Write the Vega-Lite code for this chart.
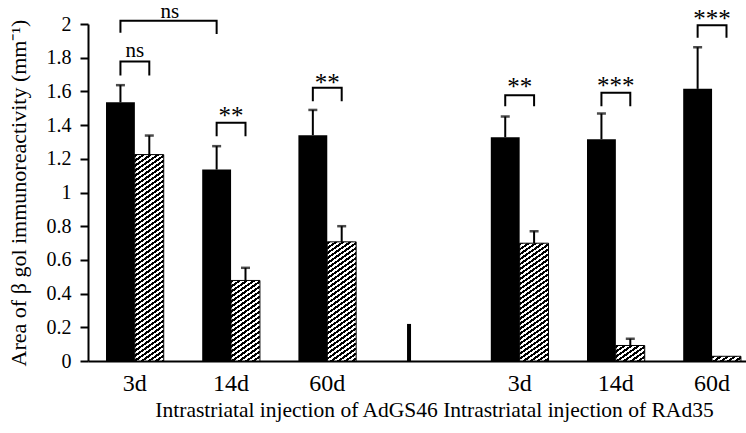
{
"$schema":"https://vega.github.io/schema/vega-lite/v6.json",
"width":658,"height":337,
"autosize":{"type":"none"},
"padding":{"left":88,"top":24,"right":0,"bottom":72},
"config":{"view":{"stroke":null},"font":"Liberation Serif",
 "axis":{"grid":false,"domainColor":"black","domainWidth":2,"tickColor":"black","labelColor":"black","titleColor":"black","labelFont":"Liberation Serif","titleFont":"Liberation Serif","titleFontWeight":"normal"}},
"datasets":{
 "bars":[
  {"slot":"A3d","series":"black","v":1.535,"top":1.637},
  {"slot":"A3d","series":"hatched","v":1.225,"top":1.338},
  {"slot":"A14d","series":"black","v":1.136,"top":1.275},
  {"slot":"A14d","series":"hatched","v":0.478,"top":0.553},
  {"slot":"A60d","series":"black","v":1.34,"top":1.49},
  {"slot":"A60d","series":"hatched","v":0.707,"top":0.8},
  {"slot":"G","series":"black","v":0.22,"top":null},
  {"slot":"R3d","series":"black","v":1.328,"top":1.451},
  {"slot":"R3d","series":"hatched","v":0.699,"top":0.77},
  {"slot":"R14d","series":"black","v":1.316,"top":1.469},
  {"slot":"R14d","series":"hatched","v":0.092,"top":0.132},
  {"slot":"R60d","series":"black","v":1.615,"top":1.862},
  {"slot":"R60d","series":"hatched","v":0.028,"top":null}
 ],
 "brackets":[
  {"id":1,"k":1,"slot":"A3d","series":"black","v":1.948},{"id":1,"k":2,"slot":"A3d","series":"black","v":2.019},{"id":1,"k":3,"slot":"A14d","series":"black","v":2.019},{"id":1,"k":4,"slot":"A14d","series":"black","v":1.94},
  {"id":2,"k":1,"slot":"A3d","series":"black","v":1.694},{"id":2,"k":2,"slot":"A3d","series":"black","v":1.777},{"id":2,"k":3,"slot":"A3d","series":"hatched","v":1.777},{"id":2,"k":4,"slot":"A3d","series":"hatched","v":1.694},
  {"id":3,"k":1,"slot":"A14d","series":"black","v":1.334},{"id":3,"k":2,"slot":"A14d","series":"black","v":1.414},{"id":3,"k":3,"slot":"A14d","series":"hatched","v":1.414},{"id":3,"k":4,"slot":"A14d","series":"hatched","v":1.334},
  {"id":4,"k":1,"slot":"A60d","series":"black","v":1.542},{"id":4,"k":2,"slot":"A60d","series":"black","v":1.621},{"id":4,"k":3,"slot":"A60d","series":"hatched","v":1.621},{"id":4,"k":4,"slot":"A60d","series":"hatched","v":1.542},
  {"id":5,"k":1,"slot":"R3d","series":"black","v":1.512},{"id":5,"k":2,"slot":"R3d","series":"black","v":1.577},{"id":5,"k":3,"slot":"R3d","series":"hatched","v":1.577},{"id":5,"k":4,"slot":"R3d","series":"hatched","v":1.512},
  {"id":6,"k":1,"slot":"R14d","series":"black","v":1.512},{"id":6,"k":2,"slot":"R14d","series":"black","v":1.592},{"id":6,"k":3,"slot":"R14d","series":"hatched","v":1.592},{"id":6,"k":4,"slot":"R14d","series":"hatched","v":1.512},
  {"id":7,"k":1,"slot":"R60d","series":"black","v":1.918},{"id":7,"k":2,"slot":"R60d","series":"black","v":1.993},{"id":7,"k":3,"slot":"R60d","series":"hatched","v":1.993},{"id":7,"k":4,"slot":"R60d","series":"hatched","v":1.918}
 ],
 "labels":[
  {"slot":"A3d","v":1.807,"t":"ns","span":"pair"},
  {"slot":"A14d","v":1.405,"t":"**","span":"pair"},
  {"slot":"A60d","v":1.603,"t":"**","span":"pair"},
  {"slot":"R3d","v":1.577,"t":"**","span":"pair"},
  {"slot":"R14d","v":1.583,"t":"***","span":"pair"},
  {"slot":"R60d","v":1.98,"t":"***","span":"pair"},
  {"slot":"A3d","v":2.038,"t":"ns","span":"wide"}
 ]
},
"encoding":{
 "x":{"field":"slot","type":"nominal",
  "scale":{"domain":["A3d","A14d","A60d","G","R3d","R14d","R60d"],"paddingInner":0.4,"paddingOuter":0.12,"align":0.78},
  "axis":{"title":"Intrastriatal injection of AdGS46 Intrastriatal injection of RAd35","labelExpr":"substring(datum.value,1)","ticks":false,"labelAngle":0,"labelFontSize":24,"labelPadding":10,"titleFontSize":21.5,"titlePadding":4,"titleX":346,"titleAnchor":"middle"}},
 "y":{"field":"v","type":"quantitative","scale":{"domain":[0,2],"nice":false},
  "axis":{"title":"Area of β gol immunoreactivity (mm⁻¹)","values":[0,0.2,0.4,0.6,0.8,1,1.2,1.4,1.6,1.8,2],"format":".1~f","labelFontSize":20,"tickSize":8,"tickWidth":2,"labelPadding":9,"titleFontSize":22,"titlePadding":16}}
},
"layer":[
 {"data":{"name":"bars"},"transform":[{"filter":"datum.series=='black' && datum.slot!='G'"}],
  "mark":{"type":"bar","fill":"black"},
  "encoding":{"xOffset":{"field":"series","type":"nominal","scale":{"domain":["black","hatched"],"paddingInner":0,"paddingOuter":0}}}},
 {"data":{"name":"bars"},"transform":[{"filter":"datum.slot=='G'"}],
  "mark":{"type":"bar","fill":"black","size":4},
  "encoding":{"xOffset":{"field":"series","type":"nominal"}}},
 {"data":{"name":"bars"},"transform":[{"filter":"datum.series=='hatched' && datum.slot=='A3d'"}],
  "mark":{"type":"bar","stroke":"black","strokeWidth":1,"fill":{"gradient":"linear","x1":0,"y1":0,"x2":0.11742,"y2":1.19975,"stops":[
{"offset":0,"color":"#000"},{"offset":0.01,"color":"#000"},{"offset":0.01,"color":"#fff"},{"offset":0.02,"color":"#fff"},
{"offset":0.02,"color":"#000"},{"offset":0.03,"color":"#000"},{"offset":0.03,"color":"#fff"},{"offset":0.04,"color":"#fff"},
{"offset":0.04,"color":"#000"},{"offset":0.05,"color":"#000"},{"offset":0.05,"color":"#fff"},{"offset":0.06,"color":"#fff"},
{"offset":0.06,"color":"#000"},{"offset":0.07,"color":"#000"},{"offset":0.07,"color":"#fff"},{"offset":0.08,"color":"#fff"},
{"offset":0.08,"color":"#000"},{"offset":0.09,"color":"#000"},{"offset":0.09,"color":"#fff"},{"offset":0.1,"color":"#fff"},
{"offset":0.1,"color":"#000"},{"offset":0.11,"color":"#000"},{"offset":0.11,"color":"#fff"},{"offset":0.12,"color":"#fff"},
{"offset":0.12,"color":"#000"},{"offset":0.13,"color":"#000"},{"offset":0.13,"color":"#fff"},{"offset":0.14,"color":"#fff"},
{"offset":0.14,"color":"#000"},{"offset":0.15,"color":"#000"},{"offset":0.15,"color":"#fff"},{"offset":0.16,"color":"#fff"},
{"offset":0.16,"color":"#000"},{"offset":0.17,"color":"#000"},{"offset":0.17,"color":"#fff"},{"offset":0.18,"color":"#fff"},
{"offset":0.18,"color":"#000"},{"offset":0.19,"color":"#000"},{"offset":0.19,"color":"#fff"},{"offset":0.2,"color":"#fff"},
{"offset":0.2,"color":"#000"},{"offset":0.21,"color":"#000"},{"offset":0.21,"color":"#fff"},{"offset":0.22,"color":"#fff"},
{"offset":0.22,"color":"#000"},{"offset":0.23,"color":"#000"},{"offset":0.23,"color":"#fff"},{"offset":0.24,"color":"#fff"},
{"offset":0.24,"color":"#000"},{"offset":0.25,"color":"#000"},{"offset":0.25,"color":"#fff"},{"offset":0.26,"color":"#fff"},
{"offset":0.26,"color":"#000"},{"offset":0.27,"color":"#000"},{"offset":0.27,"color":"#fff"},{"offset":0.28,"color":"#fff"},
{"offset":0.28,"color":"#000"},{"offset":0.29,"color":"#000"},{"offset":0.29,"color":"#fff"},{"offset":0.3,"color":"#fff"},
{"offset":0.3,"color":"#000"},{"offset":0.31,"color":"#000"},{"offset":0.31,"color":"#fff"},{"offset":0.32,"color":"#fff"},
{"offset":0.32,"color":"#000"},{"offset":0.33,"color":"#000"},{"offset":0.33,"color":"#fff"},{"offset":0.34,"color":"#fff"},
{"offset":0.34,"color":"#000"},{"offset":0.35,"color":"#000"},{"offset":0.35,"color":"#fff"},{"offset":0.36,"color":"#fff"},
{"offset":0.36,"color":"#000"},{"offset":0.37,"color":"#000"},{"offset":0.37,"color":"#fff"},{"offset":0.38,"color":"#fff"},
{"offset":0.38,"color":"#000"},{"offset":0.39,"color":"#000"},{"offset":0.39,"color":"#fff"},{"offset":0.4,"color":"#fff"},
{"offset":0.4,"color":"#000"},{"offset":0.41,"color":"#000"},{"offset":0.41,"color":"#fff"},{"offset":0.42,"color":"#fff"},
{"offset":0.42,"color":"#000"},{"offset":0.43,"color":"#000"},{"offset":0.43,"color":"#fff"},{"offset":0.44,"color":"#fff"},
{"offset":0.44,"color":"#000"},{"offset":0.45,"color":"#000"},{"offset":0.45,"color":"#fff"},{"offset":0.46,"color":"#fff"},
{"offset":0.46,"color":"#000"},{"offset":0.47,"color":"#000"},{"offset":0.47,"color":"#fff"},{"offset":0.48,"color":"#fff"},
{"offset":0.48,"color":"#000"},{"offset":0.49,"color":"#000"},{"offset":0.49,"color":"#fff"},{"offset":0.5,"color":"#fff"},
{"offset":0.5,"color":"#000"},{"offset":0.51,"color":"#000"},{"offset":0.51,"color":"#fff"},{"offset":0.52,"color":"#fff"},
{"offset":0.52,"color":"#000"},{"offset":0.53,"color":"#000"},{"offset":0.53,"color":"#fff"},{"offset":0.54,"color":"#fff"},
{"offset":0.54,"color":"#000"},{"offset":0.55,"color":"#000"},{"offset":0.55,"color":"#fff"},{"offset":0.56,"color":"#fff"},
{"offset":0.56,"color":"#000"},{"offset":0.57,"color":"#000"},{"offset":0.57,"color":"#fff"},{"offset":0.58,"color":"#fff"},
{"offset":0.58,"color":"#000"},{"offset":0.59,"color":"#000"},{"offset":0.59,"color":"#fff"},{"offset":0.6,"color":"#fff"},
{"offset":0.6,"color":"#000"},{"offset":0.61,"color":"#000"},{"offset":0.61,"color":"#fff"},{"offset":0.62,"color":"#fff"},
{"offset":0.62,"color":"#000"},{"offset":0.63,"color":"#000"},{"offset":0.63,"color":"#fff"},{"offset":0.64,"color":"#fff"},
{"offset":0.64,"color":"#000"},{"offset":0.65,"color":"#000"},{"offset":0.65,"color":"#fff"},{"offset":0.66,"color":"#fff"},
{"offset":0.66,"color":"#000"},{"offset":0.67,"color":"#000"},{"offset":0.67,"color":"#fff"},{"offset":0.68,"color":"#fff"},
{"offset":0.68,"color":"#000"},{"offset":0.69,"color":"#000"},{"offset":0.69,"color":"#fff"},{"offset":0.7,"color":"#fff"},
{"offset":0.7,"color":"#000"},{"offset":0.71,"color":"#000"},{"offset":0.71,"color":"#fff"},{"offset":0.72,"color":"#fff"},
{"offset":0.72,"color":"#000"},{"offset":0.73,"color":"#000"},{"offset":0.73,"color":"#fff"},{"offset":0.74,"color":"#fff"},
{"offset":0.74,"color":"#000"},{"offset":0.75,"color":"#000"},{"offset":0.75,"color":"#fff"},{"offset":0.76,"color":"#fff"},
{"offset":0.76,"color":"#000"},{"offset":0.77,"color":"#000"},{"offset":0.77,"color":"#fff"},{"offset":0.78,"color":"#fff"},
{"offset":0.78,"color":"#000"},{"offset":0.79,"color":"#000"},{"offset":0.79,"color":"#fff"},{"offset":0.8,"color":"#fff"},
{"offset":0.8,"color":"#000"},{"offset":0.81,"color":"#000"},{"offset":0.81,"color":"#fff"},{"offset":0.82,"color":"#fff"},
{"offset":0.82,"color":"#000"},{"offset":0.83,"color":"#000"},{"offset":0.83,"color":"#fff"},{"offset":0.84,"color":"#fff"},
{"offset":0.84,"color":"#000"},{"offset":0.85,"color":"#000"},{"offset":0.85,"color":"#fff"},{"offset":0.86,"color":"#fff"},
{"offset":0.86,"color":"#000"},{"offset":0.87,"color":"#000"},{"offset":0.87,"color":"#fff"},{"offset":0.88,"color":"#fff"},
{"offset":0.88,"color":"#000"},{"offset":0.89,"color":"#000"},{"offset":0.89,"color":"#fff"},{"offset":0.9,"color":"#fff"},
{"offset":0.9,"color":"#000"},{"offset":0.91,"color":"#000"}]}},
  "encoding":{"xOffset":{"field":"series","type":"nominal"}}},
 {"data":{"name":"bars"},"transform":[{"filter":"datum.series=='hatched' && datum.slot=='A14d'"}],
  "mark":{"type":"bar","stroke":"black","strokeWidth":1,"fill":{"gradient":"linear","x1":0,"y1":0,"x2":0.7331,"y2":2.9216,"stops":[
{"offset":0,"color":"#000"},{"offset":0.01,"color":"#000"},{"offset":0.01,"color":"#fff"},{"offset":0.02,"color":"#fff"},
{"offset":0.02,"color":"#000"},{"offset":0.03,"color":"#000"},{"offset":0.03,"color":"#fff"},{"offset":0.04,"color":"#fff"},
{"offset":0.04,"color":"#000"},{"offset":0.05,"color":"#000"},{"offset":0.05,"color":"#fff"},{"offset":0.06,"color":"#fff"},
{"offset":0.06,"color":"#000"},{"offset":0.07,"color":"#000"},{"offset":0.07,"color":"#fff"},{"offset":0.08,"color":"#fff"},
{"offset":0.08,"color":"#000"},{"offset":0.09,"color":"#000"},{"offset":0.09,"color":"#fff"},{"offset":0.1,"color":"#fff"},
{"offset":0.1,"color":"#000"},{"offset":0.11,"color":"#000"},{"offset":0.11,"color":"#fff"},{"offset":0.12,"color":"#fff"},
{"offset":0.12,"color":"#000"},{"offset":0.13,"color":"#000"},{"offset":0.13,"color":"#fff"},{"offset":0.14,"color":"#fff"},
{"offset":0.14,"color":"#000"},{"offset":0.15,"color":"#000"},{"offset":0.15,"color":"#fff"},{"offset":0.16,"color":"#fff"},
{"offset":0.16,"color":"#000"},{"offset":0.17,"color":"#000"},{"offset":0.17,"color":"#fff"},{"offset":0.18,"color":"#fff"},
{"offset":0.18,"color":"#000"},{"offset":0.19,"color":"#000"},{"offset":0.19,"color":"#fff"},{"offset":0.2,"color":"#fff"},
{"offset":0.2,"color":"#000"},{"offset":0.21,"color":"#000"},{"offset":0.21,"color":"#fff"},{"offset":0.22,"color":"#fff"},
{"offset":0.22,"color":"#000"},{"offset":0.23,"color":"#000"},{"offset":0.23,"color":"#fff"},{"offset":0.24,"color":"#fff"},
{"offset":0.24,"color":"#000"},{"offset":0.25,"color":"#000"},{"offset":0.25,"color":"#fff"},{"offset":0.26,"color":"#fff"},
{"offset":0.26,"color":"#000"},{"offset":0.27,"color":"#000"},{"offset":0.27,"color":"#fff"},{"offset":0.28,"color":"#fff"},
{"offset":0.28,"color":"#000"},{"offset":0.29,"color":"#000"},{"offset":0.29,"color":"#fff"},{"offset":0.3,"color":"#fff"},
{"offset":0.3,"color":"#000"},{"offset":0.31,"color":"#000"},{"offset":0.31,"color":"#fff"},{"offset":0.32,"color":"#fff"},
{"offset":0.32,"color":"#000"},{"offset":0.33,"color":"#000"},{"offset":0.33,"color":"#fff"},{"offset":0.34,"color":"#fff"},
{"offset":0.34,"color":"#000"},{"offset":0.35,"color":"#000"},{"offset":0.35,"color":"#fff"},{"offset":0.36,"color":"#fff"},
{"offset":0.36,"color":"#000"},{"offset":0.37,"color":"#000"},{"offset":0.37,"color":"#fff"},{"offset":0.38,"color":"#fff"},
{"offset":0.38,"color":"#000"},{"offset":0.39,"color":"#000"},{"offset":0.39,"color":"#fff"},{"offset":0.4,"color":"#fff"},
{"offset":0.4,"color":"#000"},{"offset":0.41,"color":"#000"}]}},
  "encoding":{"xOffset":{"field":"series","type":"nominal"}}},
 {"data":{"name":"bars"},"transform":[{"filter":"datum.series=='hatched' && (datum.slot=='A60d' || datum.slot=='R3d')"}],
  "mark":{"type":"bar","stroke":"black","strokeWidth":1,"fill":{"gradient":"linear","x1":0,"y1":0,"x2":0.34949,"y2":2.05018,"stops":[
{"offset":0,"color":"#000"},{"offset":0.01,"color":"#000"},{"offset":0.01,"color":"#fff"},{"offset":0.02,"color":"#fff"},
{"offset":0.02,"color":"#000"},{"offset":0.03,"color":"#000"},{"offset":0.03,"color":"#fff"},{"offset":0.04,"color":"#fff"},
{"offset":0.04,"color":"#000"},{"offset":0.05,"color":"#000"},{"offset":0.05,"color":"#fff"},{"offset":0.06,"color":"#fff"},
{"offset":0.06,"color":"#000"},{"offset":0.07,"color":"#000"},{"offset":0.07,"color":"#fff"},{"offset":0.08,"color":"#fff"},
{"offset":0.08,"color":"#000"},{"offset":0.09,"color":"#000"},{"offset":0.09,"color":"#fff"},{"offset":0.1,"color":"#fff"},
{"offset":0.1,"color":"#000"},{"offset":0.11,"color":"#000"},{"offset":0.11,"color":"#fff"},{"offset":0.12,"color":"#fff"},
{"offset":0.12,"color":"#000"},{"offset":0.13,"color":"#000"},{"offset":0.13,"color":"#fff"},{"offset":0.14,"color":"#fff"},
{"offset":0.14,"color":"#000"},{"offset":0.15,"color":"#000"},{"offset":0.15,"color":"#fff"},{"offset":0.16,"color":"#fff"},
{"offset":0.16,"color":"#000"},{"offset":0.17,"color":"#000"},{"offset":0.17,"color":"#fff"},{"offset":0.18,"color":"#fff"},
{"offset":0.18,"color":"#000"},{"offset":0.19,"color":"#000"},{"offset":0.19,"color":"#fff"},{"offset":0.2,"color":"#fff"},
{"offset":0.2,"color":"#000"},{"offset":0.21,"color":"#000"},{"offset":0.21,"color":"#fff"},{"offset":0.22,"color":"#fff"},
{"offset":0.22,"color":"#000"},{"offset":0.23,"color":"#000"},{"offset":0.23,"color":"#fff"},{"offset":0.24,"color":"#fff"},
{"offset":0.24,"color":"#000"},{"offset":0.25,"color":"#000"},{"offset":0.25,"color":"#fff"},{"offset":0.26,"color":"#fff"},
{"offset":0.26,"color":"#000"},{"offset":0.27,"color":"#000"},{"offset":0.27,"color":"#fff"},{"offset":0.28,"color":"#fff"},
{"offset":0.28,"color":"#000"},{"offset":0.29,"color":"#000"},{"offset":0.29,"color":"#fff"},{"offset":0.3,"color":"#fff"},
{"offset":0.3,"color":"#000"},{"offset":0.31,"color":"#000"},{"offset":0.31,"color":"#fff"},{"offset":0.32,"color":"#fff"},
{"offset":0.32,"color":"#000"},{"offset":0.33,"color":"#000"},{"offset":0.33,"color":"#fff"},{"offset":0.34,"color":"#fff"},
{"offset":0.34,"color":"#000"},{"offset":0.35,"color":"#000"},{"offset":0.35,"color":"#fff"},{"offset":0.36,"color":"#fff"},
{"offset":0.36,"color":"#000"},{"offset":0.37,"color":"#000"},{"offset":0.37,"color":"#fff"},{"offset":0.38,"color":"#fff"},
{"offset":0.38,"color":"#000"},{"offset":0.39,"color":"#000"},{"offset":0.39,"color":"#fff"},{"offset":0.4,"color":"#fff"},
{"offset":0.4,"color":"#000"},{"offset":0.41,"color":"#000"},{"offset":0.41,"color":"#fff"},{"offset":0.42,"color":"#fff"},
{"offset":0.42,"color":"#000"},{"offset":0.43,"color":"#000"},{"offset":0.43,"color":"#fff"},{"offset":0.44,"color":"#fff"},
{"offset":0.44,"color":"#000"},{"offset":0.45,"color":"#000"},{"offset":0.45,"color":"#fff"},{"offset":0.46,"color":"#fff"},
{"offset":0.46,"color":"#000"},{"offset":0.47,"color":"#000"},{"offset":0.47,"color":"#fff"},{"offset":0.48,"color":"#fff"},
{"offset":0.48,"color":"#000"},{"offset":0.49,"color":"#000"},{"offset":0.49,"color":"#fff"},{"offset":0.5,"color":"#fff"},
{"offset":0.5,"color":"#000"},{"offset":0.51,"color":"#000"},{"offset":0.51,"color":"#fff"},{"offset":0.52,"color":"#fff"},
{"offset":0.52,"color":"#000"},{"offset":0.53,"color":"#000"},{"offset":0.53,"color":"#fff"},{"offset":0.54,"color":"#fff"},
{"offset":0.54,"color":"#000"},{"offset":0.55,"color":"#000"},{"offset":0.55,"color":"#fff"},{"offset":0.56,"color":"#fff"},
{"offset":0.56,"color":"#000"},{"offset":0.57,"color":"#000"}]}},
  "encoding":{"xOffset":{"field":"series","type":"nominal"}}},
 {"data":{"name":"bars"},"transform":[{"filter":"datum.series=='hatched' && datum.slot=='R14d'"}],
  "mark":{"type":"bar","stroke":"black","strokeWidth":1,"fill":{"gradient":"linear","x1":0,"y1":0,"x2":7.7889,"y2":5.9766,"stops":[
{"offset":0,"color":"#000"},{"offset":0.01,"color":"#000"},{"offset":0.01,"color":"#fff"},{"offset":0.02,"color":"#fff"},
{"offset":0.02,"color":"#000"},{"offset":0.03,"color":"#000"},{"offset":0.03,"color":"#fff"},{"offset":0.04,"color":"#fff"},
{"offset":0.04,"color":"#000"},{"offset":0.05,"color":"#000"},{"offset":0.05,"color":"#fff"},{"offset":0.06,"color":"#fff"},
{"offset":0.06,"color":"#000"},{"offset":0.07,"color":"#000"},{"offset":0.07,"color":"#fff"},{"offset":0.08,"color":"#fff"},
{"offset":0.08,"color":"#000"},{"offset":0.09,"color":"#000"},{"offset":0.09,"color":"#fff"},{"offset":0.1,"color":"#fff"},
{"offset":0.1,"color":"#000"},{"offset":0.11,"color":"#000"},{"offset":0.11,"color":"#fff"},{"offset":0.12,"color":"#fff"},
{"offset":0.12,"color":"#000"},{"offset":0.13,"color":"#000"},{"offset":0.13,"color":"#fff"},{"offset":0.14,"color":"#fff"},
{"offset":0.14,"color":"#000"},{"offset":0.15,"color":"#000"}]}},
  "encoding":{"xOffset":{"field":"series","type":"nominal"}}},
 {"data":{"name":"bars"},"transform":[{"filter":"datum.series=='hatched' && datum.slot=='R60d'"}],
  "mark":{"type":"bar","stroke":"black","strokeWidth":1,"fill":{"gradient":"linear","x1":0,"y1":0,"x2":11.739,"y2":2.7313,"stops":[
{"offset":0,"color":"#000"},{"offset":0.01,"color":"#000"},{"offset":0.01,"color":"#fff"},{"offset":0.02,"color":"#fff"},
{"offset":0.02,"color":"#000"},{"offset":0.03,"color":"#000"},{"offset":0.03,"color":"#fff"},{"offset":0.04,"color":"#fff"},
{"offset":0.04,"color":"#000"},{"offset":0.05,"color":"#000"},{"offset":0.05,"color":"#fff"},{"offset":0.06,"color":"#fff"},
{"offset":0.06,"color":"#000"},{"offset":0.07,"color":"#000"},{"offset":0.07,"color":"#fff"},{"offset":0.08,"color":"#fff"},
{"offset":0.08,"color":"#000"},{"offset":0.09,"color":"#000"},{"offset":0.09,"color":"#fff"},{"offset":0.1,"color":"#fff"}]}},
  "encoding":{"xOffset":{"field":"series","type":"nominal"}}},
 {"data":{"name":"bars"},"transform":[{"filter":"datum.top != null"}],
  "mark":{"type":"rule","color":"black","strokeWidth":2},
  "encoding":{"xOffset":{"field":"series","type":"nominal"},"y2":{"field":"top"}}},
 {"data":{"name":"bars"},"transform":[{"filter":"datum.top != null"}],
  "mark":{"type":"tick","color":"black","size":9,"thickness":2.5,"orient":"horizontal"},
  "encoding":{"xOffset":{"field":"series","type":"nominal"},"y":{"field":"top","type":"quantitative","scale":{"domain":[0,2],"nice":false},
   "axis":{"title":"Area of β gol immunoreactivity (mm⁻¹)","values":[0,0.2,0.4,0.6,0.8,1,1.2,1.4,1.6,1.8,2],"format":".1~f","labelFontSize":20,"tickSize":8,"tickWidth":2,"labelPadding":9,"titleFontSize":22,"titlePadding":16}}}},
 {"data":{"name":"brackets"},
  "mark":{"type":"line","color":"black","strokeWidth":2},
  "encoding":{"xOffset":{"field":"series","type":"nominal"},"detail":{"field":"id","type":"nominal"},"order":{"field":"k","type":"quantitative"}}},
 {"data":{"name":"labels"},"transform":[{"filter":"datum.span=='pair' && datum.t=='ns'"}],
  "mark":{"type":"text","fontSize":21,"color":"black","baseline":"alphabetic","font":"Liberation Serif"},
  "encoding":{"text":{"field":"t"}}},
 {"data":{"name":"labels"},"transform":[{"filter":"datum.span=='pair' && datum.t!='ns'"}],
  "mark":{"type":"text","fontSize":25,"color":"black","baseline":"alphabetic","font":"Liberation Serif"},
  "encoding":{"text":{"field":"t"}}},
 {"data":{"name":"labels"},"transform":[{"filter":"datum.span=='wide'"}],
  "mark":{"type":"text","fontSize":21,"color":"black","baseline":"alphabetic","font":"Liberation Serif","dx":35},
  "encoding":{"text":{"field":"t"}}}
]
}
